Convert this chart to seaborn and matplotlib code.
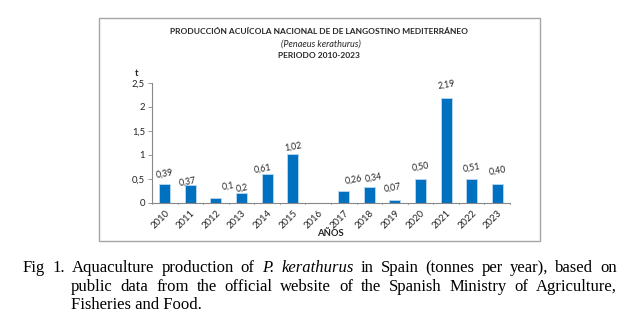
import matplotlib
matplotlib.use("Agg")
import matplotlib.pyplot as plt
import seaborn as sns
import pandas as pd
from matplotlib.patches import Rectangle

years = ["2010", "2011", "2012", "2013", "2014", "2015", "2016",
         "2017", "2018", "2019", "2020", "2021", "2022", "2023"]
values = [0.39, 0.37, 0.10, 0.20, 0.61, 1.02, 0.0,
          0.26, 0.34, 0.07, 0.50, 2.19, 0.51, 0.40]
value_labels = ["0,39", "0,37", "0,1", "0,2", "0,61", "1,02", "",
                "0,26", "0,34", "0,07", "0,50", "2,19", "0,51", "0,40"]
yticks = [0, 0.5, 1, 1.5, 2, 2.5]
ytick_labels = ["0", "0,5", "1", "1,5", "2", "2,5"]

title1 = "PRODUCCIÓN ACUÍCOLA NACIONAL DE DE LANGOSTINO MEDITERRÁNEO"
title2 = "(Penaeus kerathurus)"
title3 = "PERIODO 2010-2023"
ylabel = "t"
xlabel = "AÑOS"

# label offsets (pixels) relative to bar top
label_dx = [0, -3, 12, 1, -4, 0, 0, 10, 4, -2, 0, 0, 0, 0]
label_dy = [11, 3, 12, 5, 5, 7, 0, 11, 9, 12, 12, 13, 11, 13]

sns.set_theme(style="white")
plt.rcParams['font.family'] = ['Lato', 'DejaVu Sans']

W, H = 637, 325
fig = plt.figure(figsize=(W / 100, H / 100), dpi=100)
fig.patch.set_facecolor("white")

def fx(px):
    return px / W

def fy(py):
    return 1 - py / H

# chart frame
fig.patches.append(Rectangle((fx(99), fy(241)), fx(540) - fx(99), fy(18) - fy(241),
                             transform=fig.transFigure, fill=False,
                             edgecolor="#a6a6a6", linewidth=1.0))

ax = fig.add_axes([fx(152), fy(203), fx(510) - fx(152), fy(83) - fy(203)])
df = pd.DataFrame({"year": years, "value": values})
sns.barplot(data=df, x="year", y="value", ax=ax, color="#0070C0",
            saturation=1, width=0.43, edgecolor="#bcd8f0", linewidth=0.6)
ax.set_xlim(-0.5, len(years) - 0.5)
ax.set_ylim(0, 2.5)
ax.set_yticks(yticks)
ax.set_yticklabels(ytick_labels, fontsize=6.8, color="#222222")
ax.set_xticks(range(len(years)))
ax.set_xticklabels(years, fontsize=6.8, rotation=45, ha="right",
                   rotation_mode="anchor", color="#222222")
ax.tick_params(axis="x", length=0, pad=4)
ax.tick_params(axis="y", length=3, width=0.6, color="#888888", pad=2, left=True)
# boundary ticks on category axis
for i in range(len(years) + 1):
    ax.plot([i - 0.5, i - 0.5], [0, -0.025], transform=ax.transData,
            color="#888888", linewidth=0.6, clip_on=False)
for s in ["top", "right"]:
    ax.spines[s].set_visible(False)
for s in ["left", "bottom"]:
    ax.spines[s].set_color("#888888")
    ax.spines[s].set_linewidth(0.8)
ax.set_xlabel("")
ax.set_ylabel("")
ax.set_facecolor("white")

for i, (v, lab) in enumerate(zip(values, value_labels)):
    if lab:
        ax.annotate(lab, xy=(i, v), xytext=(label_dx[i], label_dy[i]),
                    textcoords="offset pixels", ha="center", va="center",
                    fontsize=6.3, rotation=10, color="#222222")

fig.text(fx(319), fy(32), title1, ha="center", va="center", fontsize=6.0, fontweight="bold")
fig.text(fx(321), fy(44), title2, ha="center", va="center", fontsize=6.6, style="italic")
fig.text(fx(319), fy(55), title3, ha="center", va="center", fontsize=6.0, fontweight="bold")
fig.text(fx(137), fy(73), ylabel, ha="center", va="center", fontsize=6.8, fontweight="bold")
fig.text(fx(330), fy(234), xlabel, ha="center", va="center", fontsize=6.8, fontweight="bold")

# caption (justified lines)
serif = ["Liberation Serif", "DejaVu Serif"]
cap_fs = 12.0
fig.text(fx(23), fy(268), "Fig", ha="left", va="center", fontsize=cap_fs,
         family=serif, color="black")
fig.text(fx(52), fy(268), "1.", ha="left", va="center", fontsize=cap_fs,
         family=serif, color="black")
lines = [
    [("Aquaculture", "normal"), ("production", "normal"),
     ("of", "normal"), ("P.", "italic"), ("kerathurus", "italic"), ("in", "normal"),
     ("Spain", "normal"), ("(tonnes", "normal"), ("per", "normal"), ("year),", "normal"),
     ("based", "normal"), ("on", "normal")],
    [("public", "normal"), ("data", "normal"), ("from", "normal"), ("the", "normal"),
     ("official", "normal"), ("website", "normal"), ("of", "normal"), ("the", "normal"),
     ("Spanish", "normal"), ("Ministry", "normal"), ("of", "normal"), ("Agriculture,", "normal")],
    [("Fisheries and Food.", "normal")],
]
line_x0 = [72, 71, 71]
line_x1 = [617, 617, None]
line_y = [268, 287, 305]

fig.canvas.draw()
renderer = fig.canvas.get_renderer()
for words, x0, x1, y in zip(lines, line_x0, line_x1, line_y):
    texts = []
    widths = []
    for w, st in words:
        t = fig.text(fx(x0), fy(y), w, ha="left", va="center", fontsize=cap_fs,
                     family=serif, style=st, color="black")
        texts.append(t)
        widths.append(t.get_window_extent(renderer).width)
    if x1 is None:
        continue
    gap = (x1 - x0 - sum(widths)) / (len(words) - 1)
    x = x0
    for t, wd in zip(texts, widths):
        t.set_x(fx(x))
        x += wd + gap

fig.savefig("out.png", dpi=100)
